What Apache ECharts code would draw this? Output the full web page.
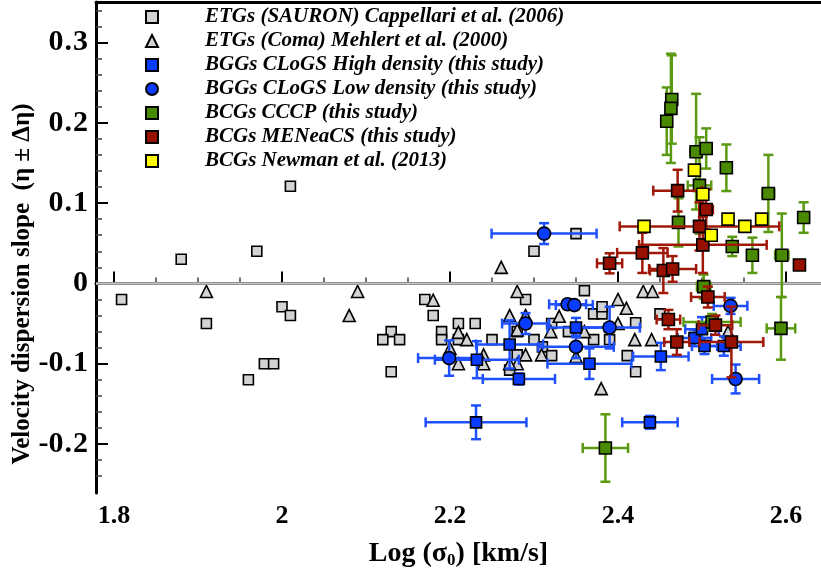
<!DOCTYPE html>
<html><head><meta charset="utf-8">
<script src="https://cdn.jsdelivr.net/npm/echarts@6/dist/echarts.min.js"></script>
<style>html,body{margin:0;padding:0;background:#fff}#c{width:821px;height:576px}</style>
</head><body><div id="c"></div>
<script>
// ---------- data ----------
const seriesNames = [
  'ETGs (SAURON) Cappellari et al. (2006)',
  'ETGs (Coma) Mehlert et al. (2000)',
  'BGGs CLoGS High density (this study)',
  'BGGs CLoGS Low density (this study)',
  'BCGs CCCP (this study)',
  'BCGs MENeaCS (this study)',
  'BCGs Newman et al. (2013)'
];
const xTickLabels = [1.8, 2.0, 2.2, 2.4, 2.6];
const yTickLabels = [-0.2, -0.1, 0, 0.1, 0.2, 0.3];

// ETGs SAURON (gray squares)
const sauronX = [1.809,1.880,1.910,1.970,2.010,2.000,2.010,1.979,1.990,1.960,2.130,2.120,2.140,2.130,2.170,2.180,2.210,2.230,2.190,2.190,2.210,2.250,2.300,2.350,2.290,2.360,2.371,2.381,2.381,2.321,2.310,2.321,2.280,2.271,2.371,2.390,2.411,2.421,2.421,2.450,2.341,2.300,2.280];
const sauronY = [-0.020,0.030,-0.050,0.040,0.121,-0.029,-0.040,-0.100,-0.100,-0.120,-0.060,-0.070,-0.070,-0.110,-0.020,-0.040,-0.050,-0.050,-0.060,-0.070,-0.070,-0.070,0.040,0.062,-0.020,-0.009,-0.038,-0.038,-0.029,-0.050,-0.079,-0.090,-0.089,-0.108,-0.070,-0.070,-0.090,-0.110,-0.049,-0.038,-0.060,-0.070,-0.060];

// ETGs Coma (gray triangles)
const comaX = [1.910,2.090,2.080,2.180,2.210,2.220,2.200,2.210,2.240,2.240,2.261,2.280,2.271,2.290,2.330,2.320,2.280,2.290,2.309,2.350,2.280,2.271,2.380,2.430,2.441,2.400,2.410,2.400,2.420,2.440,2.360,2.531];
const comaY = [-0.010,-0.010,-0.040,-0.021,-0.061,-0.070,-0.081,-0.100,-0.089,-0.100,0.020,-0.010,-0.040,-0.040,-0.041,-0.060,-0.058,-0.089,-0.089,-0.091,-0.100,-0.100,-0.131,-0.010,-0.010,-0.020,-0.031,-0.050,-0.070,-0.070,-0.060,-0.060];

// BGGs CLoGS high density (blue squares)
const highX   = [2.231,2.438,2.282,2.232,2.271,2.350,2.366,2.451,2.491,2.500,2.503,2.526];
const highY   = [-0.173,-0.173,-0.119,-0.095,-0.076,-0.055,-0.100,-0.091,-0.068,-0.057,-0.078,-0.078];
const highXe  = [0.060,0.033,0.043,0.050,0.040,0.034,0.050,0.033,0.020,0.020,0.015,0.020];
const highYe  = [0.021,0.008,0.007,0.023,0.030,0.012,0.019,0.017,0.010,0.015,0.010,0.012];

// BGGs CLoGS low density (blue circles)
const lowX  = [2.312,2.199,2.290,2.340,2.348,2.350,2.390,2.534,2.540];
const lowY  = [0.062,-0.093,-0.050,-0.026,-0.027,-0.079,-0.055,-0.028,-0.119];
const lowXe = [0.0625,0.037,0.028,0.022,0.022,0.045,0.036,0.020,0.028];
const lowYe = [0.013,0.022,0.013,0.005,0.005,0.014,0.026,0.010,0.018];

// BCGs CCCP (green squares)
const cccpX  = [2.464,2.463,2.458,2.493,2.505,2.497,2.529,2.579,2.621,2.472,2.536,2.560,2.595,2.594,2.502,2.512,2.385];
const cccpY  = [0.229,0.218,0.202,0.164,0.168,0.122,0.144,0.112,0.082,0.076,0.046,0.035,0.035,-0.056,-0.004,-0.048,-0.205];
const cccpXe = [0.006,0.006,0.006,0.007,0.006,0.014,0.005,0.007,0.004,0.005,0.005,0.005,0.008,0.017,0.008,0.034,0.027];
const cccpYe = [0.055,0.068,0.042,0.072,0.025,0.060,0.029,0.048,0.019,0.030,0.012,0.022,0.052,0.039,0.015,0.010,0.042];

// BCGs MENeaCS (dark red squares)
const menX  = [2.390,2.429,2.454,2.465,2.497,2.501,2.505,2.471,2.507,2.460,2.516,2.470,2.535,2.616];
const menY  = [0.025,0.038,0.016,0.018,0.071,0.048,0.092,0.1155,-0.017,-0.045,-0.052,-0.073,-0.073,0.023];
const menXe = [0.015,0.030,0.016,0.028,0.095,0.076,0.008,0.029,0.020,0.014,0.020,0.015,0.038,0.004];
const menYe = [0.0125,0.025,0.028,0.016,0.030,0.035,0.025,0.026,0.013,0.012,0.012,0.016,0.044,0.004];

// BCGs Newman et al. (yellow squares)
const newmanX = [2.491,2.501,2.431,2.531,2.551,2.571,2.511];
const newmanY = [0.141,0.111,0.071,0.080,0.071,0.080,0.060];

// ---------- chart ----------
const FONT = '"Liberation Serif", "Times New Roman", "DejaVu Serif", serif';
const xMin = 1.8 - 18/840, xMax = xMin + 725/840;
const yMin = -0.261, yMax = 0.3504;

const xMinor = [], yMinor = [];
for (let k = 0; k <= 16; k++) { const v = Math.round((1.8 + 0.05*k)*100)/100; if (Math.round(v*100) % 20 !== 0) xMinor.push(v); }
for (let k = -12; k <= 17; k++) { const v = Math.round(0.02*k*100)/100; if (Math.round(v*100) % 10 !== 0) yMinor.push(v); }

const zip2 = (a, b) => a.map((v, i) => [v, b[i]]);
const zip4 = (a, b, c, d) => a.map((v, i) => [v, b[i], c[i], d[i]]);
const fmt = v => String(Math.round(v*10)/10);
const fmtY = v => fmt(v).replace('.', '{d|.}');

function errSeries(name, data, color, z) {
  return {
    type: 'custom', name: name, z: z, silent: true,
    data: data, encode: { x: 0, y: 1 },
    renderItem: function (params, api) {
      const x = api.value(0), y = api.value(1), dx = api.value(2), dy = api.value(3);
      const st = { stroke: color, lineWidth: 2.5 };
      const ch = [];
      const cap = 5;
      if (dx > 0) {
        const l = api.coord([x - dx, y]), r = api.coord([x + dx, y]);
        ch.push({ type: 'line', shape: { x1: l[0], y1: l[1], x2: r[0], y2: r[1] }, style: st });
        ch.push({ type: 'line', shape: { x1: l[0], y1: l[1]-cap, x2: l[0], y2: l[1]+cap }, style: st });
        ch.push({ type: 'line', shape: { x1: r[0], y1: r[1]-cap, x2: r[0], y2: r[1]+cap }, style: st });
      }
      if (dy > 0) {
        const t = api.coord([x, y + dy]), b = api.coord([x, y - dy]);
        ch.push({ type: 'line', shape: { x1: t[0], y1: t[1], x2: b[0], y2: b[1] }, style: st });
        ch.push({ type: 'line', shape: { x1: t[0]-cap, y1: t[1], x2: t[0]+cap, y2: t[1] }, style: st });
        ch.push({ type: 'line', shape: { x1: b[0]-cap, y1: b[1], x2: b[0]+cap, y2: b[1] }, style: st });
      }
      return { type: 'group', children: ch };
    }
  };
}
function scat(name, data, symbol, size, color, z, extra) {
  return Object.assign({
    type: 'scatter', name: name, data: data, symbol: symbol, symbolSize: size, z: z,
    itemStyle: { color: color, borderColor: '#000', borderWidth: 1.6, opacity: 1 },
    emphasis: { disabled: true }
  }, extra || {});
}

const BLUE = '#0a3cff', BLUE_E = '#1e50ff';
const GREEN = '#4a8a00', GREEN_E = '#5a9a10';
const RED = '#981000', RED_E = '#a01808';
const GRAY = '#d3d3d3', YELLOW = '#ffff00';

const chart = echarts.init(document.getElementById('c'), null, { renderer: 'canvas' });
chart.setOption({
  animation: false,
  backgroundColor: '#fff',
  grid: { left: 96, right: 0, top: 2, bottom: 83 },
  legend: {
    orient: 'vertical', left: 140, top: 0, itemWidth: 12, itemHeight: 12, itemGap: 0,
    selectedMode: false,
    data: seriesNames,
    textStyle: { fontFamily: FONT, fontStyle: 'italic', fontWeight: 'bold', fontSize: 21, lineHeight: 24, color: '#000', padding: [0, 0, 0, 42] }
  },
  xAxis: [
    { type: 'value', min: xMin, max: xMax, position: 'bottom',
      axisLine: { lineStyle: { color: '#000', width: 3 } },
      axisTick: { inside: true, length: 12, customValues: xTickLabels, lineStyle: { color: '#000', width: 2 } },
      axisLabel: { customValues: xTickLabels, formatter: fmt, margin: 10, fontFamily: FONT, fontWeight: 'bold', fontSize: 26, color: '#000' },
      splitLine: { show: false },
      name: 'Log (σ{sub|0}) [km/s]', nameLocation: 'middle', nameGap: 45,
      nameTextStyle: { fontFamily: FONT, fontWeight: 'bold', fontSize: 28, color: '#000',
        rich: { sub: { fontFamily: FONT, fontWeight: 'bold', fontSize: 17, padding: [14, 0, 0, 0], color: '#000' } } }
    },
    { type: 'value', min: xMin, max: xMax, position: 'bottom',
      axisLine: { show: false },
      axisTick: { inside: true, length: 6, customValues: xMinor, lineStyle: { color: '#444', width: 1.5 } },
      axisLabel: { show: false }, splitLine: { show: false } },
    { type: 'value', min: xMin, max: xMax, position: 'top',
      axisLine: { lineStyle: { color: '#000', width: 3 } },
      axisTick: { show: false }, axisLabel: { show: false }, splitLine: { show: false } }
  ],
  yAxis: [
    { type: 'value', min: yMin, max: yMax, position: 'left',
      axisLine: { lineStyle: { color: '#000', width: 3 } },
      axisTick: { inside: true, length: 12, customValues: yTickLabels, lineStyle: { color: '#000', width: 2 } },
      axisLabel: { customValues: yTickLabels, formatter: fmtY, margin: 8, fontFamily: FONT, fontWeight: 'bold', fontSize: 30, color: '#000',
        rich: { d: { fontFamily: FONT, fontWeight: 'bold', fontSize: 30, color: '#000', padding: [0, 1, 0, 1] } } },
      splitLine: { show: false } },
    { type: 'value', min: yMin, max: yMax, position: 'left',
      axisLine: { show: false },
      axisTick: { inside: true, length: 6, customValues: yMinor, lineStyle: { color: '#444', width: 1.5 } },
      axisLabel: { show: false }, splitLine: { show: false } }
  ],
  graphic: [{
    type: 'text', x: 23, y: 284, rotation: Math.PI / 2,
    style: { text: 'Velocity dispersion slope  (η ± Δη)', font: 'bold 25px ' + FONT, align: 'center', verticalAlign: 'middle', fill: '#000' }
  }],
  series: [
    scat(seriesNames[0], zip2(sauronX, sauronY), 'rect', 10, GRAY, 2, {
      markLine: { silent: true, symbol: ['none', 'none'], label: { show: false },
        lineStyle: { color: '#c4c4c4', width: 2.5, type: 'solid' }, data: [{ yAxis: 0 }] }
    }),
    scat(seriesNames[1], zip2(comaX, comaY), 'triangle', 12, GRAY, 3),
    errSeries('errHigh', zip4(highX, highY, highXe, highYe), BLUE_E, 4),
    errSeries('errLow', zip4(lowX, lowY, lowXe, lowYe), BLUE_E, 4),
    scat(seriesNames[2], zip2(highX, highY), 'rect', 11, BLUE, 5),
    scat(seriesNames[3], zip2(lowX, lowY), 'circle', 13, BLUE, 5),
    errSeries('errCCCP', zip4(cccpX, cccpY, cccpXe, cccpYe), GREEN_E, 6),
    scat(seriesNames[4], zip2(cccpX, cccpY), 'rect', 12, GREEN, 7),
    errSeries('errMEN', zip4(menX, menY, menXe, menYe), RED_E, 8),
    scat(seriesNames[5], zip2(menX, menY), 'rect', 12, RED, 9),
    scat(seriesNames[6], zip2(newmanX, newmanY), 'rect', 12, YELLOW, 10)
  ]
});
</script>
</body></html>
